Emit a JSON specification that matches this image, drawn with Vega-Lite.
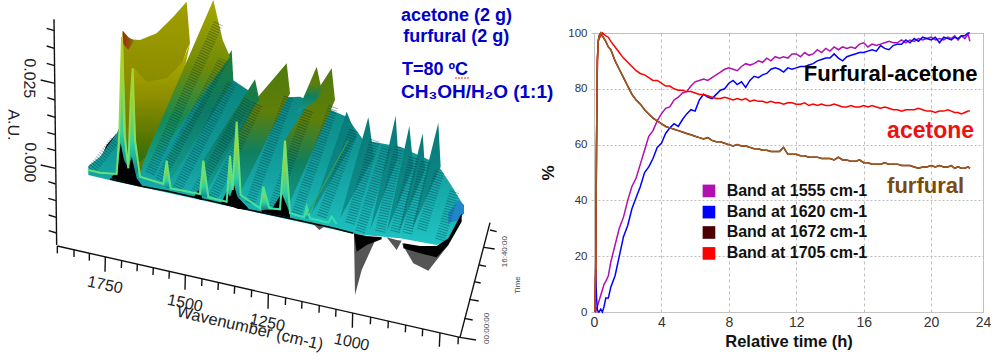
{"$schema":"https://vega.github.io/schema/vega-lite/v6.json","padding":0,"spacing":0,"bounds":"flush","background":"white","config":{"font":"Liberation Sans","concat":{"spacing":0}},
"datasets":{
"surface":[
{"g":"body","r":"b","u":265,"v":498,"w":525},{"g":"body","r":"b","u":300,"v":470,"w":533},{"g":"body","r":"b","u":350,"v":400,"w":545},{"g":"body","r":"b","u":400,"v":300,"w":556},{"g":"body","r":"b","u":640,"v":200,"w":608},{"g":"body","r":"b","u":780,"v":295,"w":640},{"g":"body","r":"b","u":900,"v":290,"w":666},{"g":"body","r":"b","u":1040,"v":350,"w":697},{"g":"body","r":"b","u":1090,"v":420,"w":705},{"g":"body","r":"b","u":1200,"v":440,"w":715},{"g":"body","r":"b","u":1310,"v":490,"w":735},{"g":"body","r":"b","u":1350,"v":550,"w":720},{"g":"body","r":"b","u":1390,"v":615,"w":640},
{"g":"blue","r":"bl","u":1345,"v":640,"w":670},{"g":"blue","r":"bl","u":1375,"v":600,"w":660},{"g":"blue","r":"bl","u":1392,"v":615,"w":640},
{"g":"teal","r":"t1","u":1235,"v":690,"w":690},{"g":"teal","r":"t1","u":1315,"v":368,"w":515},{"g":"teal","r":"t1","u":1322,"v":500,"w":500},
{"g":"teal","r":"t2","u":1195,"v":700,"w":700},{"g":"teal","r":"t2","u":1268,"v":400,"w":527},{"g":"teal","r":"t2","u":1275,"v":510,"w":510},
{"g":"teal","r":"t3","u":1160,"v":695,"w":695},{"g":"teal","r":"t3","u":1228,"v":378,"w":529},{"g":"teal","r":"t3","u":1240,"v":500,"w":500},
{"g":"teal","r":"t4","u":1110,"v":690,"w":690},{"g":"teal","r":"t4","u":1187,"v":348,"w":491},{"g":"teal","r":"t4","u":1195,"v":470,"w":470},
{"g":"teal","r":"t5","u":1020,"v":655,"w":655},{"g":"teal","r":"t5","u":1105,"v":352,"w":501},{"g":"teal","r":"t5","u":1122,"v":470,"w":470},
{"g":"teal","r":"t6","u":935,"v":640,"w":640},{"g":"teal","r":"t6","u":1040,"v":335,"w":461},{"g":"teal","r":"t6","u":1070,"v":410,"w":410},
{"g":"mid","r":"t7","u":855,"v":420,"w":640},{"g":"mid","r":"t7","u":995,"v":205,"w":323},{"g":"mid","r":"t7","u":1005,"v":300,"w":300},
{"g":"mid","r":"t9","u":890,"v":340,"w":340},{"g":"mid","r":"t9","u":950,"v":200,"w":300},{"g":"mid","r":"t9","u":965,"v":270,"w":270},
{"g":"mid","r":"t8","u":710,"v":365,"w":600},{"g":"mid","r":"t8","u":860,"v":190,"w":300},{"g":"mid","r":"t8","u":870,"v":280,"w":280},
{"g":"green","r":"t10","u":610,"v":480,"w":590},{"g":"green","r":"t10","u":765,"v":238,"w":315},{"g":"green","r":"t10","u":778,"v":300,"w":300},
{"g":"green","r":"t11","u":500,"v":480,"w":560},{"g":"green","r":"t11","u":695,"v":150,"w":250},{"g":"green","r":"t11","u":700,"v":240,"w":240},
{"g":"sheet","r":"s1","u":368,"v":92,"w":480},{"g":"sheet","r":"s1","u":390,"v":118,"w":500},{"g":"sheet","r":"s1","u":420,"v":120,"w":520},{"g":"sheet","r":"s1","u":470,"v":100,"w":400},{"g":"sheet","r":"s1","u":520,"v":50,"w":280},{"g":"sheet","r":"s1","u":560,"v":5,"w":150},{"g":"sheet","r":"s1","u":570,"v":130,"w":130},
{"g":"valley","r":"s2","u":398,"v":200,"w":500},{"g":"valley","r":"s2","u":440,"v":245,"w":470},{"g":"valley","r":"s2","u":500,"v":235,"w":380},{"g":"valley","r":"s2","u":545,"v":190,"w":250},{"g":"valley","r":"s2","u":570,"v":130,"w":130},
{"g":"strip","r":"t13","u":425,"v":500,"w":500},{"g":"strip","r":"t13","u":445,"v":450,"w":510},{"g":"strip","r":"t13","u":640,"v":0,"w":239},{"g":"strip","r":"t13","u":668,"v":120,"w":200},{"g":"strip","r":"t13","u":690,"v":170,"w":170},
{"g":"red","r":"rd","u":368,"v":92,"w":130},{"g":"red","r":"rd","u":385,"v":112,"w":150},{"g":"red","r":"rd","u":400,"v":120,"w":125},
{"g":"spike","r":"p1","u":352,"v":520,"w":520},{"g":"spike","r":"p1","u":368,"v":92,"w":510},{"g":"spike","r":"p1","u":382,"v":500,"w":500},
{"g":"spike","r":"p2","u":386,"v":510,"w":510},{"g":"spike","r":"p2","u":398,"v":200,"w":510},{"g":"spike","r":"p2","u":412,"v":525,"w":525},
{"g":"spike","r":"p3","u":490,"v":552,"w":552},{"g":"spike","r":"p3","u":500,"v":482,"w":565},{"g":"spike","r":"p3","u":512,"v":565,"w":565},
{"g":"spike","r":"p4","u":598,"v":582,"w":582},{"g":"spike","r":"p4","u":610,"v":482,"w":590},{"g":"spike","r":"p4","u":625,"v":592,"w":592},
{"g":"spike","r":"p5","u":680,"v":605,"w":605},{"g":"spike","r":"p5","u":690,"v":467,"w":605},{"g":"spike","r":"p5","u":698,"v":570,"w":570},
{"g":"spike","r":"p6","u":700,"v":575,"w":575},{"g":"spike","r":"p6","u":710,"v":365,"w":600},{"g":"spike","r":"p6","u":724,"v":588,"w":588},
{"g":"spike","r":"p7","u":778,"v":625,"w":625},{"g":"spike","r":"p7","u":790,"v":560,"w":628},{"g":"spike","r":"p7","u":808,"v":628,"w":628},
{"g":"spike","r":"p8","u":838,"v":630,"w":630},{"g":"spike","r":"p8","u":855,"v":422,"w":640},{"g":"spike","r":"p8","u":870,"v":642,"w":642},
{"g":"spike","r":"p9","u":912,"v":652,"w":652},{"g":"spike","r":"p9","u":920,"v":620,"w":655},{"g":"spike","r":"p9","u":930,"v":655,"w":655},
{"g":"black","r":"k0","u":300,"v":480,"w":500},{"g":"black","r":"k0","u":320,"v":435,"w":505},{"g":"black","r":"k0","u":348,"v":402,"w":510},
{"g":"black","r":"k1","u":335,"v":530,"w":535},{"g":"black","r":"k1","u":352,"v":515,"w":540},{"g":"black","r":"k1","u":362,"v":430,"w":542},{"g":"black","r":"k1","u":372,"v":480,"w":545},{"g":"black","r":"k1","u":385,"v":505,"w":548},{"g":"black","r":"k1","u":395,"v":470,"w":552},{"g":"black","r":"k1","u":410,"v":535,"w":556},{"g":"black","r":"k1","u":425,"v":555,"w":558},
{"g":"black","r":"k2","u":582,"v":590,"w":592},{"g":"black","r":"k2","u":595,"v":570,"w":597},{"g":"black","r":"k2","u":606,"v":590,"w":600},
{"g":"black","r":"k3","u":665,"v":605,"w":612},{"g":"black","r":"k3","u":680,"v":575,"w":616},{"g":"black","r":"k3","u":690,"v":590,"w":618},{"g":"black","r":"k3","u":702,"v":555,"w":622},{"g":"black","r":"k3","u":712,"v":590,"w":626},{"g":"black","r":"k3","u":745,"v":625,"w":630},
{"g":"black","r":"k4","u":785,"v":630,"w":635},{"g":"black","r":"k4","u":815,"v":628,"w":642},{"g":"black","r":"k4","u":845,"v":580,"w":648},{"g":"black","r":"k4","u":870,"v":640,"w":654},
{"g":"gray","r":"g1","u":1062,"v":705,"w":705},{"g":"gray","r":"g1","u":1065,"v":700,"w":885},{"g":"gray","r":"g1","u":1085,"v":715,"w":810},{"g":"gray","r":"g1","u":1125,"v":715,"w":722},
{"g":"gray","r":"g2","u":1205,"v":730,"w":730},{"g":"gray","r":"g2","u":1240,"v":745,"w":790},{"g":"gray","r":"g2","u":1285,"v":760,"w":812},{"g":"gray","r":"g2","u":1345,"v":725,"w":735},
{"g":"gray","r":"g3","u":940,"v":672,"w":672},{"g":"gray","r":"g3","u":958,"v":675,"w":690},{"g":"gray","r":"g3","u":972,"v":680,"w":680},
{"g":"gray","r":"g4","u":1160,"v":712,"w":712},{"g":"gray","r":"g4","u":1190,"v":720,"w":750},{"g":"gray","r":"g4","u":1205,"v":722,"w":722},
{"g":"black","r":"k5","u":1062,"v":700,"w":700},{"g":"black","r":"k5","u":1070,"v":702,"w":755},{"g":"black","r":"k5","u":1100,"v":708,"w":735},{"g":"black","r":"k5","u":1145,"v":712,"w":718},
{"g":"black","r":"k6","u":1210,"v":730,"w":745},{"g":"black","r":"k6","u":1260,"v":738,"w":760},{"g":"black","r":"k6","u":1310,"v":738,"w":772},{"g":"black","r":"k6","u":1345,"v":715,"w":735},{"g":"black","r":"k6","u":1385,"v":640,"w":665}
],
"ribs":[
{"r":"t1","u":1265,"v":690},{"r":"t1","u":1320,"v":510},{"r":"t2","u":1222,"v":700},{"r":"t2","u":1278,"v":480},{"r":"t3","u":1185,"v":695},{"r":"t3","u":1243,"v":470},{"r":"t4","u":1140,"v":695},{"r":"t4","u":1198,"v":440},{"r":"t5","u":1050,"v":670},{"r":"t5","u":1125,"v":420},{"r":"t6","u":965,"v":650},{"r":"t6","u":1062,"v":390},
{"r":"c1","u":1320,"v":720},{"r":"c1","u":1365,"v":570},{"r":"c2","u":1080,"v":695},{"r":"c2","u":1160,"v":440},
{"r":"t7","u":890,"v":640},{"r":"t7","u":1000,"v":320},{"r":"t8","u":750,"v":610},{"r":"t8","u":866,"v":290},{"r":"t7b","u":820,"v":620},{"r":"t7b","u":925,"v":330},
{"r":"t10","u":640,"v":590},{"r":"t10","u":775,"v":310},{"r":"t11","u":530,"v":570},{"r":"t11","u":695,"v":250},{"r":"t12","u":585,"v":580},{"r":"t12","u":745,"v":300},{"r":"t13","u":450,"v":520},{"r":"t13","u":655,"v":70},{"r":"t14","u":480,"v":540},{"r":"t14","u":670,"v":180},{"r":"t15","u":275,"v":510},{"r":"t15","u":345,"v":420}
],
"front":[
{"u":265,"v":510},{"u":300,"v":518},{"u":350,"v":522},{"u":358,"v":400},{"u":366,"v":110},{"u":373,"v":400},{"u":385,"v":505},{"u":392,"v":300},{"u":398,"v":205},{"u":405,"v":420},{"u":420,"v":530},{"u":490,"v":552},{"u":500,"v":482},{"u":512,"v":565},{"u":600,"v":582},{"u":610,"v":482},{"u":625,"v":592},{"u":680,"v":605},{"u":690,"v":467},{"u":698,"v":570},{"u":703,"v":480},{"u":710,"v":365},{"u":722,"v":585},{"u":780,"v":625},{"u":790,"v":560},{"u":808,"v":625},{"u":840,"v":628},{"u":855,"v":422},{"u":870,"v":640},{"u":912,"v":652},{"u":920,"v":620},{"u":930,"v":655},{"u":985,"v":668},{"u":995,"v":650},{"u":1010,"v":672}
],
"edge":[
{"u":330,"v":537},{"u":420,"v":558},{"u":500,"v":573},{"u":620,"v":600},{"u":750,"v":630},{"u":880,"v":658},{"u":1000,"v":684},{"u":1060,"v":700}
],
"gline":[{"u":925,"v":640},{"u":1045,"v":420}],
"squiggle":[{"u":1365,"v":234},{"u":1410,"v":234}],
"ticks":[
{"u":162,"v":58,"u2":170,"v2":735},{"u":172,"v":738,"u2":1380,"v2":1012},{"u":1380,"v":1012,"u2":1470,"v2":668},
{"u":140,"v":85,"u2":163,"v2":92},{"u":140,"v":138,"u2":163,"v2":145},{"u":140,"v":190,"u2":164,"v2":197},{"u":122,"v":240,"u2":165,"v2":250},{"u":142,"v":293,"u2":165,"v2":300},{"u":142,"v":345,"u2":166,"v2":352},{"u":142,"v":397,"u2":166,"v2":404},{"u":142,"v":445,"u2":167,"v2":452},{"u":122,"v":495,"u2":167,"v2":505},{"u":145,"v":545,"u2":167,"v2":552},{"u":145,"v":595,"u2":168,"v2":602},{"u":146,"v":645,"u2":169,"v2":652},{"u":146,"v":692,"u2":170,"v2":699},
{"u":172,"v":738,"u2":172,"v2":760},{"u":222,"v":749,"u2":222,"v2":771},{"u":268,"v":760,"u2":268,"v2":782},{"u":316,"v":771,"u2":315,"v2":815},{"u":365,"v":782,"u2":364,"v2":804},{"u":412,"v":792,"u2":411,"v2":814},{"u":460,"v":803,"u2":459,"v2":825},{"u":508,"v":814,"u2":507,"v2":836},{"u":556,"v":825,"u2":555,"v2":869},{"u":606,"v":836,"u2":605,"v2":858},{"u":655,"v":848,"u2":654,"v2":870},{"u":704,"v":859,"u2":703,"v2":881},{"u":755,"v":870,"u2":754,"v2":892},{"u":805,"v":882,"u2":804,"v2":926},{"u":857,"v":893,"u2":856,"v2":915},{"u":906,"v":904,"u2":905,"v2":926},{"u":958,"v":916,"u2":957,"v2":938},{"u":1008,"v":928,"u2":1007,"v2":950},{"u":1058,"v":939,"u2":1057,"v2":983},{"u":1112,"v":951,"u2":1111,"v2":973},{"u":1165,"v":963,"u2":1164,"v2":985},{"u":1217,"v":975,"u2":1216,"v2":997},{"u":1268,"v":987,"u2":1267,"v2":1009},{"u":1320,"v":998,"u2":1318,"v2":1040},{"u":1375,"v":1011,"u2":1374,"v2":1033},
{"u":1470,"v":690,"u2":1490,"v2":695},{"u":1452,"v":742,"u2":1484,"v2":747},{"u":1438,"v":795,"u2":1458,"v2":799},{"u":1422,"v":845,"u2":1442,"v2":849},{"u":1408,"v":898,"u2":1436,"v2":903},{"u":1393,"v":955,"u2":1418,"v2":960},{"u":1380,"v":1012,"u2":1428,"v2":1020}
]
},
"hconcat":[
{"width":594,"height":362,"view":{"stroke":null},
"layer":[
{"data":{"name":"surface"},"transform":[{"filter":"datum.r=='k0'"}],"mark":{"type":"area","color":"#000"},"encoding":{"x":{"field":"u","type":"quantitative","scale":{"domain":[0,1782],"nice":false,"zero":false},"axis":null},"y":{"field":"v","type":"quantitative","scale":{"domain":[1086,0],"nice":false,"zero":false},"axis":null},"y2":{"field":"w"},"detail":{"field":"r"}}},
{"data":{"name":"surface"},"transform":[{"filter":"datum.g=='body'"}],"mark":{"type":"area","color":{"gradient":"linear","x1":0,"y1":0,"x2":0,"y2":1,"stops":[{"offset":0,"color":"#0a7f78"},{"offset":0.5,"color":"#109a98"},{"offset":1,"color":"#1fc4c4"}]}},"encoding":{"x":{"field":"u","type":"quantitative"},"y":{"field":"v","type":"quantitative"},"y2":{"field":"w"},"detail":{"field":"r"}}},
{"data":{"name":"surface"},"transform":[{"filter":"datum.g=='blue'"}],"mark":{"type":"area","color":"#1f86c8"},"encoding":{"x":{"field":"u","type":"quantitative"},"y":{"field":"v","type":"quantitative"},"y2":{"field":"w"},"detail":{"field":"r"}}},
{"data":{"name":"surface"},"transform":[{"filter":"datum.g=='teal'"}],"mark":{"type":"area","color":{"gradient":"linear","x1":0,"y1":0,"x2":0,"y2":1,"stops":[{"offset":0,"color":"#087a78"},{"offset":1,"color":"#0f8f8f"}]}},"encoding":{"x":{"field":"u","type":"quantitative"},"y":{"field":"v","type":"quantitative"},"y2":{"field":"w"},"detail":{"field":"r"}}},
{"data":{"name":"surface"},"transform":[{"filter":"datum.g=='mid'"}],"mark":{"type":"area","color":{"gradient":"linear","x1":0,"y1":0,"x2":0,"y2":1,"stops":[{"offset":0,"color":"#4f7a10"},{"offset":0.35,"color":"#5f7f08"},{"offset":0.65,"color":"#0f7f60"},{"offset":1,"color":"#149c94"}]}},"encoding":{"x":{"field":"u","type":"quantitative"},"y":{"field":"v","type":"quantitative"},"y2":{"field":"w"},"detail":{"field":"r"}}},
{"data":{"name":"surface"},"transform":[{"filter":"datum.g=='green'"}],"mark":{"type":"area","color":{"gradient":"linear","x1":0,"y1":0,"x2":0,"y2":1,"stops":[{"offset":0,"color":"#1c7c38"},{"offset":0.45,"color":"#0c7a66"},{"offset":1,"color":"#13a093"}]}},"encoding":{"x":{"field":"u","type":"quantitative"},"y":{"field":"v","type":"quantitative"},"y2":{"field":"w"},"detail":{"field":"r"}}},
{"data":{"name":"surface"},"transform":[{"filter":"datum.g=='sheet'"}],"mark":{"type":"area","color":{"gradient":"linear","x1":0,"y1":0,"x2":0,"y2":1,"stops":[{"offset":0,"color":"#a0a000"},{"offset":0.5,"color":"#8a8a00"},{"offset":1,"color":"#5c7000"}]}},"encoding":{"x":{"field":"u","type":"quantitative"},"y":{"field":"v","type":"quantitative"},"y2":{"field":"w"},"detail":{"field":"r"}}},
{"data":{"name":"surface"},"transform":[{"filter":"datum.g=='red'"}],"mark":{"type":"area","color":{"gradient":"linear","x1":0,"y1":0,"x2":1,"y2":0,"stops":[{"offset":0,"color":"#9c2a10"},{"offset":1,"color":"#8a7000"}]}},"encoding":{"x":{"field":"u","type":"quantitative"},"y":{"field":"v","type":"quantitative"},"y2":{"field":"w"},"detail":{"field":"r"}}},
{"data":{"name":"surface"},"transform":[{"filter":"datum.g=='valley'"}],"mark":{"type":"area","color":{"gradient":"linear","x1":0,"y1":0,"x2":0,"y2":1,"stops":[{"offset":0,"color":"#b4b400"},{"offset":0.45,"color":"#8c8c00"},{"offset":0.8,"color":"#4f7400"},{"offset":1,"color":"#2a6c20"}]}},"encoding":{"x":{"field":"u","type":"quantitative"},"y":{"field":"v","type":"quantitative"},"y2":{"field":"w"},"detail":{"field":"r"}}},
{"data":{"name":"surface"},"transform":[{"filter":"datum.g=='strip'"}],"mark":{"type":"area","color":{"gradient":"linear","x1":0,"y1":0,"x2":0,"y2":1,"stops":[{"offset":0,"color":"#a8a800"},{"offset":0.4,"color":"#6f8a08"},{"offset":0.7,"color":"#148a55"},{"offset":1,"color":"#12a095"}]}},"encoding":{"x":{"field":"u","type":"quantitative"},"y":{"field":"v","type":"quantitative"},"y2":{"field":"w"},"detail":{"field":"r"}}},
{"data":{"name":"ribs"},"mark":{"type":"line","color":"#023","opacity":0.35,"strokeWidth":10,"strokeDash":[1,1.6],"strokeCap":"butt"},"encoding":{"x":{"field":"u","type":"quantitative"},"y":{"field":"v","type":"quantitative"},"detail":{"field":"r"}}},
{"data":{"name":"surface"},"transform":[{"filter":"datum.g=='spike'"}],"mark":{"type":"area","color":{"gradient":"linear","x1":0,"y1":0,"x2":0,"y2":1,"stops":[{"offset":0,"color":"#9a9a10"},{"offset":0.3,"color":"#a8d030"},{"offset":0.7,"color":"#2fd0a8"},{"offset":1,"color":"#10888c"}]}},"encoding":{"x":{"field":"u","type":"quantitative"},"y":{"field":"v","type":"quantitative"},"y2":{"field":"w"},"detail":{"field":"r"}}},
{"data":{"name":"surface"},"transform":[{"filter":"datum.g=='gray'"}],"mark":{"type":"area","color":"#555555"},"encoding":{"x":{"field":"u","type":"quantitative"},"y":{"field":"v","type":"quantitative"},"y2":{"field":"w"},"detail":{"field":"r"}}},
{"data":{"name":"surface"},"transform":[{"filter":"datum.g=='black' && datum.r!='k0'"}],"mark":{"type":"area","color":"#000"},"encoding":{"x":{"field":"u","type":"quantitative"},"y":{"field":"v","type":"quantitative"},"y2":{"field":"w"},"detail":{"field":"r"}}},
{"data":{"name":"edge"},"mark":{"type":"line","color":"#000","strokeWidth":1.5},"encoding":{"x":{"field":"u","type":"quantitative"},"y":{"field":"v","type":"quantitative"}}},
{"data":{"name":"front"},"mark":{"type":"line","strokeWidth":2,"color":{"gradient":"linear","x1":0,"y1":0,"x2":0,"y2":1,"stops":[{"offset":0,"color":"#b0d020"},{"offset":0.6,"color":"#80e060"},{"offset":1,"color":"#30e0b0"}]}},"encoding":{"x":{"field":"u","type":"quantitative"},"y":{"field":"v","type":"quantitative"}}},
{"data":{"name":"gline"},"mark":{"type":"line","color":"#3aa04a","strokeWidth":1.2},"encoding":{"x":{"field":"u","type":"quantitative"},"y":{"field":"v","type":"quantitative"}}},
{"data":{"name":"ticks"},"mark":{"type":"rule","color":"#111","strokeWidth":1.4},"encoding":{"x":{"field":"u","type":"quantitative"},"y":{"field":"v","type":"quantitative"},"x2":{"field":"u2"},"y2":{"field":"v2"}}},
{"data":{"values":[{"t":"1750","u":315,"v":855},{"t":"1500","u":555,"v":910},{"t":"1250","u":802,"v":968},{"t":"1000","u":1055,"v":1027}]},"mark":{"type":"text","angle":12,"fontSize":16,"color":"#222"},"encoding":{"x":{"field":"u","type":"quantitative"},"y":{"field":"v","type":"quantitative"},"text":{"field":"t"}}},
{"data":{"values":[{"t":"Wavenumber (cm-1)","u":750,"v":985}]},"mark":{"type":"text","angle":13,"fontSize":16.5,"color":"#222"},"encoding":{"x":{"field":"u","type":"quantitative"},"y":{"field":"v","type":"quantitative"},"text":{"field":"t"}}},
{"data":{"values":[{"t":"0.025","u":88,"v":235},{"t":"0.000","u":90,"v":487},{"t":"A.U.","u":40,"v":375}]},"mark":{"type":"text","angle":91,"fontSize":16,"color":"#222"},"encoding":{"x":{"field":"u","type":"quantitative"},"y":{"field":"v","type":"quantitative"},"text":{"field":"t"}}},
{"data":{"values":[{"t":"16:40:00","u":1515,"v":755},{"t":"00:00:00","u":1460,"v":985},{"t":"Time","u":1555,"v":855}]},"mark":{"type":"text","angle":-90,"fontSize":8,"color":"#444"},"encoding":{"x":{"field":"u","type":"quantitative"},"y":{"field":"v","type":"quantitative"},"text":{"field":"t"}}},
{"data":{"values":[{"t":"acetone (2 g)","u":1203,"v":48},{"t":"furfural (2 g)","u":1210,"v":112},{"t":"T=80 ºC","u":1206,"v":210}]},"mark":{"type":"text","align":"left","fontSize":18,"fontWeight":"bold","color":"#0000cc"},"encoding":{"x":{"field":"u","type":"quantitative"},"y":{"field":"v","type":"quantitative"},"text":{"field":"t"}}},
{"data":{"values":[{"t":"CH₃OH/H₂O (1:1)","u":1203,"v":275}]},"mark":{"type":"text","align":"left","fontSize":19,"fontWeight":"bold","color":"#0000cc"},"encoding":{"x":{"field":"u","type":"quantitative"},"y":{"field":"v","type":"quantitative"},"text":{"field":"t"}}},
{"data":{"name":"squiggle"},"mark":{"type":"line","color":"#e03020","strokeWidth":1,"strokeDash":[2,1]},"encoding":{"x":{"field":"u","type":"quantitative"},"y":{"field":"v","type":"quantitative"}}}
]},
{"spacing":0,"bounds":"flush","vconcat":[
{"width":389,"height":33,"view":{"stroke":null},"data":{"values":[{"s":""}]},"mark":{"type":"text"},"encoding":{"text":{"field":"s"}}},
{"width":389,"height":279,"view":{"stroke":"#c4c4c4"},
"data":{"values":[
{"t":0.05,"a":0,"b":15,"c":0,"d":0},{"t":0.1,"a":0,"b":15,"c":15,"d":15},{"t":0.15,"a":1,"b":5,"c":60,"d":60},{"t":0.2,"a":2,"b":1,"c":90,"d":90},{"t":0.25,"a":3,"b":0,"c":97,"d":97},{"t":0.3,"a":4,"b":0,"c":99,"d":98},{"t":0.4,"a":6,"b":1,"c":100,"d":99},{"t":0.5,"a":8,"b":0,"c":99,"d":100},{"t":0.6,"a":10,"b":2,"c":98,"d":99.5},{"t":0.7,"a":11,"b":5,"c":97,"d":99},{"t":0.85,"a":13,"b":5,"c":95,"d":98.5},
{"t":1,"a":18,"b":9,"c":94,"d":97},{"t":1.25,"a":24,"b":13,"c":90,"d":95},{"t":1.5,"a":30,"b":20,"c":87,"d":93},{"t":1.75,"a":34,"b":27,"c":84,"d":91},{"t":2,"a":40,"b":31,"c":81,"d":89.5},{"t":2.25,"a":45,"b":37,"c":78,"d":88},{"t":2.5,"a":48,"b":41,"c":76,"d":86.5},{"t":2.75,"a":53,"b":45,"c":74.5,"d":85.5},{"t":3,"a":58,"b":50,"c":72.5,"d":85},{"t":3.25,"a":63,"b":52,"c":71,"d":84},{"t":3.5,"a":65,"b":55,"c":69.5,"d":83},{"t":3.75,"a":68.5,"b":59,"c":68.5,"d":83},{"t":4,"a":71,"b":60.5,"c":67.5,"d":82},{"t":4.25,"a":73,"b":64,"c":66.5,"d":81},{"t":4.5,"a":73.5,"b":66,"c":66,"d":81},{"t":4.75,"a":76,"b":67.5,"c":65.5,"d":80},{"t":5,"a":77,"b":66.5,"c":65,"d":79.5},{"t":5.25,"a":78.5,"b":69,"c":64.5,"d":79.5},{"t":5.5,"a":79,"b":71,"c":64,"d":79},{"t":5.75,"a":81,"b":72.5,"c":63.5,"d":79},{"t":6,"a":82.5,"b":72,"c":63,"d":78.5},{"t":6.25,"a":83,"b":76,"c":62.5,"d":78},{"t":6.5,"a":83.5,"b":78,"c":62,"d":78},{"t":6.75,"a":83,"b":77,"c":62.5,"d":77.5},{"t":7,"a":84,"b":76.5,"c":61.5,"d":77},{"t":7.25,"a":85,"b":78,"c":61,"d":76.5},{"t":7.5,"a":86,"b":79.5,"c":61,"d":76.5},{"t":7.75,"a":87,"b":80,"c":60.5,"d":77},{"t":8,"a":87.5,"b":82,"c":60,"d":76.5},{"t":8.25,"a":87,"b":83,"c":59.5,"d":76},{"t":8.5,"a":86.5,"b":81.5,"c":60,"d":76.5},{"t":8.75,"a":88,"b":82.5,"c":59.5,"d":76},{"t":9,"a":89,"b":80.5,"c":59.5,"d":76.5},{"t":9.25,"a":88.5,"b":83,"c":59,"d":75.5},{"t":9.5,"a":89,"b":84.5,"c":58.5,"d":76},{"t":9.75,"a":90,"b":84,"c":58.5,"d":75.5},{"t":10,"a":89.5,"b":85,"c":58,"d":75.5},{"t":10.25,"a":91,"b":85.5,"c":58,"d":75},{"t":10.5,"a":90,"b":87,"c":57.5,"d":75.5},{"t":10.75,"a":91.5,"b":87.5,"c":57.5,"d":75},{"t":11,"a":91,"b":87,"c":57.5,"d":75},{"t":11.25,"a":91.5,"b":86,"c":59,"d":74.5},{"t":11.5,"a":91,"b":87.5,"c":56.5,"d":75},{"t":11.75,"a":92.5,"b":87,"c":56.5,"d":75},{"t":12,"a":92.5,"b":87.5,"c":56.5,"d":74.5},{"t":12.25,"a":91.5,"b":88,"c":56,"d":74.5},{"t":12.5,"a":93,"b":88,"c":56,"d":75},{"t":12.75,"a":92,"b":88.5,"c":55.5,"d":74},{"t":13,"a":92.5,"b":89,"c":55.5,"d":74.5},{"t":13.25,"a":94,"b":90,"c":55.5,"d":74},{"t":13.5,"a":93,"b":90.5,"c":55,"d":74.5},{"t":13.75,"a":94.5,"b":91,"c":55,"d":74},{"t":14,"a":93.5,"b":91,"c":55,"d":74},{"t":14.25,"a":95,"b":92.5,"c":54.5,"d":74.5},{"t":14.5,"a":94,"b":91,"c":55.5,"d":74},{"t":14.75,"a":95,"b":90,"c":54.5,"d":73.5},{"t":15,"a":94.5,"b":91.5,"c":54.5,"d":73.5},{"t":15.25,"a":95,"b":92,"c":54,"d":74},{"t":15.5,"a":94.5,"b":92.5,"c":54,"d":73.5},{"t":15.75,"a":96,"b":93,"c":54.5,"d":73.5},{"t":16,"a":96.5,"b":93,"c":53.5,"d":74},{"t":16.25,"a":95,"b":93.5,"c":53.5,"d":73.5},{"t":16.5,"a":96,"b":94,"c":53,"d":74},{"t":16.75,"a":95.5,"b":93.5,"c":53,"d":73.5},{"t":17,"a":96,"b":95.5,"c":53,"d":73},{"t":17.25,"a":96.5,"b":94.5,"c":53.5,"d":73.5},{"t":17.5,"a":97,"b":94,"c":53,"d":73},{"t":17.75,"a":96.5,"b":95.5,"c":53,"d":72.5},{"t":18,"a":96.5,"b":96,"c":53,"d":72.5},{"t":18.25,"a":97.5,"b":96,"c":52.5,"d":72},{"t":18.5,"a":96.5,"b":97.5,"c":52.5,"d":72.5},{"t":18.75,"a":97.5,"b":96.5,"c":52.5,"d":72.5},{"t":19,"a":97,"b":98,"c":52,"d":72.5},{"t":19.25,"a":98,"b":97,"c":51.5,"d":73},{"t":19.5,"a":97.5,"b":98.5,"c":52,"d":72.5},{"t":19.75,"a":98,"b":98,"c":52,"d":72},{"t":20,"a":98.5,"b":97.5,"c":52.5,"d":72},{"t":20.25,"a":97.5,"b":98.5,"c":52,"d":71.5},{"t":20.5,"a":98,"b":96.5,"c":52.5,"d":72},{"t":20.75,"a":97.5,"b":98.5,"c":52,"d":72},{"t":21,"a":98.5,"b":98,"c":52,"d":72.5},{"t":21.2,"a":98,"b":97.5,"c":52.5,"d":72},{"t":21.4,"a":99,"b":98.5,"c":51.5,"d":71.5},{"t":21.6,"a":97.5,"b":98,"c":52,"d":71.5},{"t":21.8,"a":99,"b":99,"c":51.5,"d":71},{"t":22,"a":98,"b":99,"c":51.5,"d":71.5},{"t":22.2,"a":99.5,"b":100,"c":52,"d":72},{"t":22.3,"a":97,"b":100,"c":51.5,"d":72}
]},
"transform":[{"fold":["a","b","c","d"],"as":["band","value"]}],
"layer":[
{"mark":{"type":"line","strokeWidth":1.5},"encoding":{
"x":{"field":"t","type":"quantitative","scale":{"domain":[0,23.08],"nice":false},"axis":{"values":[0,4,8,12,16,20,23.08],"labelExpr":"datum.value>23?'24':datum.label","labelFlush":false,"title":"Relative time (h)","titleFontSize":16.5,"titleFontWeight":"bold","titleColor":"#111","titlePadding":4,"labelFontSize":14,"labelColor":"#333","labelPadding":3,"tickSize":0,"domainColor":"#c4c4c4","grid":true,"gridColor":"#bdbdbd","gridDash":[3,3]}},
"y":{"field":"value","type":"quantitative","scale":{"domain":[0,100],"nice":false},"axis":{"values":[0,10,20,30,40,50,60,70,80,90,100],"labelExpr":"datum.value%20==0?datum.label:''","labelFlush":false,"title":"%","titleFontSize":17,"titleFontWeight":"bold","titleColor":"#111","titlePadding":12,"labelFontSize":11.5,"labelColor":"#333","labelPadding":4,"tickSize":3,"tickColor":"#c4c4c4","domainColor":"#c4c4c4","grid":true,"gridColor":"#bdbdbd","gridDash":[2,2],"minExtent":25,"maxExtent":25}},
"color":{"field":"band","type":"nominal","scale":{"domain":["a","b","c","d"],"range":["#b010b0","#0000ff","#4d0000","#ff0000"]},"legend":null}}},
{"transform":[{"filter":"datum.band=='c'"}],"mark":{"type":"line","strokeWidth":1.5,"color":"#a05a1e"},"encoding":{"x":{"field":"t","type":"quantitative"},"y":{"field":"value","type":"quantitative"}}},
{"data":{"values":[{"x":6.82,"y":43.4,"band":"a"},{"x":6.82,"y":35.8,"band":"b"},{"x":6.82,"y":28.5,"band":"c"},{"x":6.82,"y":21,"band":"d"}]},"mark":{"type":"point","shape":"square","filled":true,"size":160,"opacity":1},"encoding":{"x":{"field":"x","type":"quantitative"},"y":{"field":"y","type":"quantitative"},"color":{"field":"band","type":"nominal"}}},
{"data":{"values":[{"x":7.87,"y":43.4,"s":"Band at 1555 cm-1"},{"x":7.87,"y":35.8,"s":"Band at 1620 cm-1"},{"x":7.87,"y":28.5,"s":"Band at 1672 cm-1"},{"x":7.87,"y":21,"s":"Band at 1705 cm-1"}]},"mark":{"type":"text","align":"left","fontSize":16,"fontWeight":"bold","color":"#111"},"encoding":{"x":{"field":"x","type":"quantitative"},"y":{"field":"y","type":"quantitative"},"text":{"field":"s"}}},
{"data":{"values":[{"x":12.45,"y":85.4,"s":"Furfural-acetone"}]},"mark":{"type":"text","align":"left","fontSize":22,"fontWeight":"bold","color":"#000"},"encoding":{"x":{"field":"x","type":"quantitative"},"y":{"field":"y","type":"quantitative"},"text":{"field":"s"}}},
{"data":{"values":[{"x":17.39,"y":65,"s":"acetone"}]},"mark":{"type":"text","align":"left","fontSize":23,"fontWeight":"bold","color":"#ee1111"},"encoding":{"x":{"field":"x","type":"quantitative"},"y":{"field":"y","type":"quantitative"},"text":{"field":"s"}}},
{"data":{"values":[{"x":17.39,"y":45.1,"s":"furfural"}]},"mark":{"type":"text","align":"left","fontSize":22,"fontWeight":"bold","color":"#7a4a10"},"encoding":{"x":{"field":"x","type":"quantitative"},"y":{"field":"y","type":"quantitative"},"text":{"field":"s"}}}
]}
]}
]}
